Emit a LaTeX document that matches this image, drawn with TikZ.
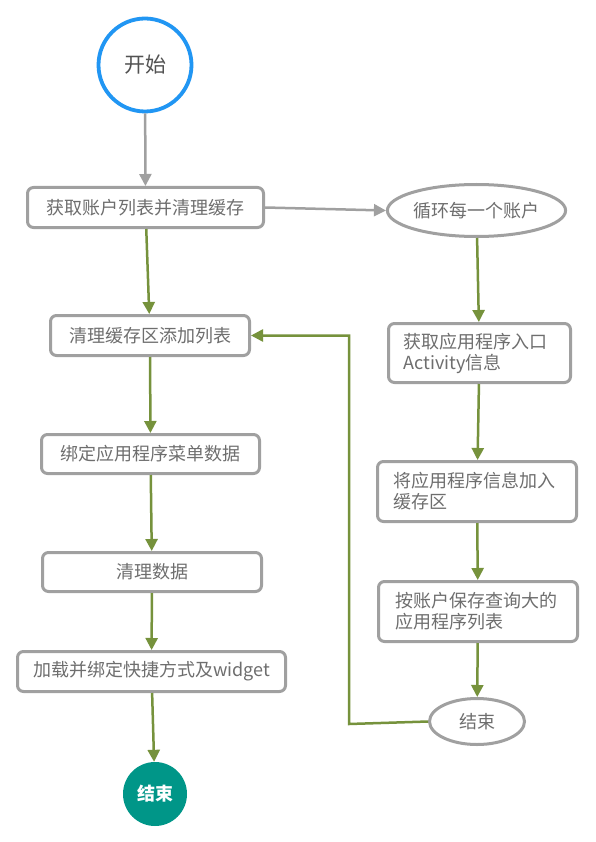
\documentclass[tikz,border=0pt]{standalone}
\usepackage{fontspec}
\setmainfont{Noto Sans CJK SC}
\usetikzlibrary{arrows.meta,shapes.geometric}
\definecolor{bordergray}{HTML}{A0A0A0}
\definecolor{txtgray}{HTML}{6E6E6E}
\definecolor{flowgreen}{HTML}{76923C}
\definecolor{startblue}{HTML}{2196F3}
\definecolor{endteal}{HTML}{009688}
\begin{document}
\begin{tikzpicture}[x=1pt,y=-1pt,
  every node/.style={text=txtgray,font=\fontsize{18}{21}\selectfont},
  procbox/.style={draw=bordergray,line width=3pt,rounded corners=6pt,fill=white,inner sep=0pt,align=center},
  leftbox/.style={procbox,align=left,text width=#1,inner xsep=0pt},
  ovalbox/.style={ellipse,draw=bordergray,line width=3pt,fill=white,inner sep=0pt},
  garrow/.style={draw=flowgreen,line width=2.5pt,-{Triangle[length=12pt,width=12pt]}},
  grarrow/.style={draw=bordergray,line width=2.5pt,-{Triangle[length=12pt,width=12pt]}}
]
\useasboundingbox[fill=white] (0,0) rectangle (596,842);

% left column
\node[circle,draw=startblue,line width=3.8pt,minimum size=93pt,inner sep=0pt,
      text=black!68,font=\fontsize{21}{24}\selectfont] (start) at (145,65) {开始};
\node[procbox,minimum width=236pt,minimum height=40pt] (b1) at (145.5,207.5) {获取账户列表并清理缓存};
\node[procbox,minimum width=199pt,minimum height=40pt] (b2) at (150,335.5) {清理缓存区添加列表};
\node[procbox,minimum width=218pt,minimum height=39pt] (b3) at (150.5,454) {绑定应用程序菜单数据};
\node[procbox,minimum width=219pt,minimum height=39pt] (b4) at (152,572) {清理数据};
\node[procbox,minimum width=268pt,minimum height=40pt] (b5) at (151.5,671.5) {加载并绑定快捷方式及widget};
\node[circle,fill=endteal,minimum size=64pt,inner sep=0pt,text=white,
      font=\fontsize{18}{21}\selectfont\bfseries] (end1) at (155,794) {结束};

% right column
\node[ovalbox,minimum width=164pt,minimum height=52pt] (e1) at (476.5,210.5) {循环每一个账户};
\node[leftbox=182pt,minimum width=180pt,minimum height=59pt] (r1) at (479.5,353)
  {\hspace*{15pt}获取应用程序入口\\\hspace*{15pt}Activity信息};
\node[leftbox=197pt,minimum width=199pt,minimum height=60pt] (r2) at (477,491.5)
  {\hspace*{15pt}将应用程序信息加入\\\hspace*{15pt}缓存区};
\node[leftbox=197pt,minimum width=199pt,minimum height=60pt] (r3) at (478,611.5)
  {\hspace*{16pt}按账户保存查询大的\\\hspace*{16pt}应用程序列表};
\node[ovalbox,minimum width=95pt,minimum height=46pt] (e2) at (477,721.5) {结束};

\coordinate (lp) at (349,724);

% connectors
\draw[grarrow] (start) -- (b1);
\draw[grarrow] (b1.east) -- (e1.west);
\draw[garrow] (b1) -- (b2);
\draw[garrow] (b2) -- (b3);
\draw[garrow] (b3) -- (b4);
\draw[garrow] (b4) -- (b5);
\draw[garrow] (b5) -- (end1);
\draw[garrow] (e1) -- (r1);
\draw[garrow] (r1) -- (r2);
\draw[garrow] (r2) -- (r3);
\draw[garrow] (r3) -- (e2);
\draw[garrow] (e2.west) -- (lp) |- (b2.east);
\end{tikzpicture}
\end{document}
